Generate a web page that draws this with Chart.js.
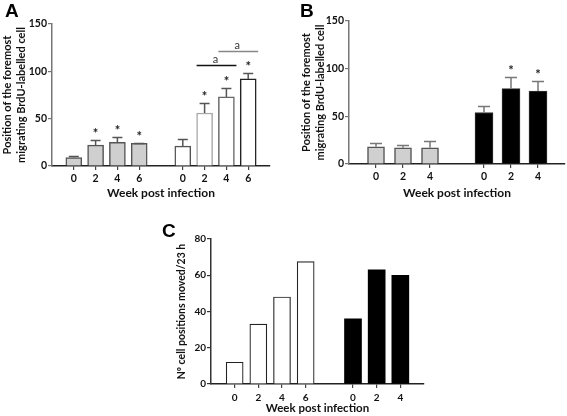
<!DOCTYPE html>
<html><head><meta charset="utf-8">
<script src="https://cdn.jsdelivr.net/npm/chart.js@4.4.1/dist/chart.umd.min.js"></script>
<style>
body{margin:0;background:#fff;width:567px;height:416px;position:relative;overflow:hidden}
canvas{position:absolute}
.lt{position:absolute;font:bold 19px 'Liberation Sans',Arial,sans-serif;line-height:1;color:#000}
</style></head><body>
<canvas id="cA" width="280" height="204" style="left:0;top:0"></canvas>
<canvas id="cB" width="277" height="204" style="left:290px;top:0"></canvas>
<canvas id="cC" width="300" height="206" style="left:140px;top:210px"></canvas>
<div class="lt" style="left:5px;top:1px">A</div>
<div class="lt" style="left:300px;top:1px">B</div>
<div class="lt" style="left:162px;top:221px">C</div>
<script>
// ---------- data ----------
const weeksA = ['0', '2', '4', '6'];
const grayA = [9, 22, 25, 24];
const grayAErr = [1.2, 5.3, 5.3, 0.8];
const grayAStars = ['', '*', '*', '*'];
const whiteA = [21, 56, 73, 92];
const whiteAErr = [7, 10.5, 9, 6];
const whiteAStars = ['', '*', '*', '*'];
const sigFromA = [1, 2];
const sigToA = [2, 3];
const sigLevelA = [107, 121];
const sigTextA = ['a', 'a'];

const weeksB = ['0', '2', '4'];
const grayB = [18, 17, 17];
const grayBErr = [4, 3, 7];
const blackB = [54, 79, 76.5];
const blackBErr = [7, 12, 11];
const blackBStars = ['', '*', '*'];

const weeksC = ['0', '2', '4', '6'];
const whiteC = [12, 33, 48, 67.5];
const weeksC2 = ['0', '2', '4'];
const blackC = [36, 63, 60];

const xTitle = 'Week post infection';
const yTitleAB = ['Position of the foremost', 'migrating BrdU-labelled cell'];
const yTitleC = 'Nº cell positions moved/23 h';

// ---------- helpers ----------
const FONT = 'Lato';
const nul = n => Array(n).fill(null);

const annot = {
  id: 'annot',
  afterDatasetsDraw(chart, args, o) {
    const ctx = chart.ctx, ys = chart.scales.y;
    ctx.save();
    chart.data.datasets.forEach((ds, di) => {
      const meta = chart.getDatasetMeta(di);
      meta.data.forEach((el, i) => {
        const v = ds.data[i];
        if (v == null) return;
        let top = el.y;
        if (ds.err && ds.err[i] != null) {
          const ey = Math.round(ys.getPixelForValue(v + ds.err[i])) + 0.5;
          ctx.strokeStyle = ds.errColor || '#555';
          ctx.lineWidth = 1.5;
          ctx.beginPath();
          ctx.moveTo(el.x, el.y); ctx.lineTo(el.x, ey);
          ctx.moveTo(el.x - o.cap, ey); ctx.lineTo(el.x + o.cap, ey);
          ctx.stroke();
          top = ey;
        }
        if (ds.stars && ds.stars[i]) {
          ctx.fillStyle = '#222';
          ctx.font = 'bold 13px ' + FONT;
          ctx.textAlign = 'center';
          ctx.textBaseline = 'alphabetic';
          ctx.fillText(ds.stars[i], el.x, top - 3);
        }
      });
    });
    if (o.sig) {
      const meta = chart.getDatasetMeta(o.sig.ds);
      o.sig.from.forEach((f, k) => {
        const a = meta.data[o.sig.offset + f], b = meta.data[o.sig.offset + o.sig.to[k]];
        const y = Math.round(ys.getPixelForValue(o.sig.level[k])) + 0.5;
        ctx.strokeStyle = o.sig.colors[k];
        ctx.lineWidth = 1.5;
        ctx.beginPath();
        ctx.moveTo(a.x - a.width / 2, y); ctx.lineTo(b.x + b.width / 2 + 2, y);
        ctx.stroke();
        ctx.fillStyle = '#333';
        ctx.font = '11px ' + FONT;
        ctx.textAlign = 'center';
        ctx.textBaseline = 'alphabetic';
        ctx.fillText(o.sig.text[k], (a.x + b.x) / 2, y - 3);
      });
    }
    ctx.restore();
  }
};

function makeScales(labels, ymax, ystep, xH, yW, tickSize, titleSize, ytitle, ytitleSize, axisColor, xtPad, xTitlePadB) {
  return {
    x: {
      type: 'category', offset: false,
      grid: { offset: false, drawOnChartArea: false, tickLength: 4, lineWidth: 1.2,
              tickColor: c => (labels[c.index] ? '#444' : 'rgba(0,0,0,0)') },
      border: { color: '#222', width: 1.5 },
      ticks: { color: '#111', font: { family: FONT, size: tickSize, weight: 'bold' }, padding: xtPad,
               autoSkip: false, maxRotation: 0 },
      title: { display: true, text: xTitle, color: '#111',
               font: { family: FONT, size: titleSize, weight: 'bold', lineHeight: 1.2 },
               padding: { top: 0, bottom: xTitlePadB } },
      afterFit: s => { s.height = xH; }
    },
    y: {
      min: 0, max: ymax,
      grid: { drawOnChartArea: false, tickLength: 4, color: axisColor, lineWidth: 1.2 },
      border: { color: axisColor, width: 1.5 },
      ticks: { stepSize: ystep, color: '#111', font: { family: FONT, size: tickSize, weight: 'bold' }, padding: 1 },
      title: { display: true, text: ytitle, color: '#111',
               font: { family: FONT, size: ytitleSize, weight: 'bold', lineHeight: 1.3 },
               padding: { top: 0, bottom: 0 } },
      afterFit: s => { s.width = yW; }
    }
  };
}

Chart.register(annot);
const common = { responsive: false, animation: false, devicePixelRatio: 1,
  plugins: { legend: { display: false }, tooltip: { enabled: false } } };

// ---------- A ----------
const labelsA = ['', ...weeksA, '', ...weeksA, ''];
new Chart(document.getElementById('cA'), {
  type: 'bar',
  data: { labels: labelsA, datasets: [
    { data: [null, ...grayA, ...nul(6)], err: [null, ...grayAErr, ...nul(6)], stars: [null, ...grayAStars, ...nul(6)],
      backgroundColor: '#cfcfcf', borderColor: '#555', borderWidth: 1.5, barThickness: 16, grouped: false, errColor: '#555' },
    { data: [...nul(6), ...whiteA, null], err: [...nul(6), ...whiteAErr, null], stars: [...nul(6), ...whiteAStars, null],
      backgroundColor: '#fff', borderColor: ['#555', '#555', '#555', '#555', '#555', '#555', '#555', '#aaa', '#666', '#222', '#222'],
      borderWidth: 1.5, barThickness: 16, grouped: false, errColor: '#555' }
  ]},
  options: { ...common,
    layout: { padding: { top: 24, right: 10, left: 0, bottom: 0 } },
    scales: makeScales(labelsA, 150, 50, 38, 52, 10.5, 12, yTitleAB, 11, '#777', 2, 4),
    plugins: { ...common.plugins,
      annot: { cap: 5, sig: { ds: 1, offset: 6, from: sigFromA, to: sigToA, level: sigLevelA, text: sigTextA, colors: ['#111', '#888'] } } }
  }
});

// ---------- B ----------
const labelsB = ['', ...weeksB, '', ...weeksB, ''];
new Chart(document.getElementById('cB'), {
  type: 'bar',
  data: { labels: labelsB, datasets: [
    { data: [null, ...grayB, ...nul(5)], err: [null, ...grayBErr, ...nul(5)],
      backgroundColor: '#d0d0d0', borderColor: '#555', borderWidth: 1.5, barThickness: 17, grouped: false, errColor: '#777' },
    { data: [...nul(5), ...blackB, null], err: [...nul(5), ...blackBErr, null], stars: [...nul(5), ...blackBStars, null],
      backgroundColor: '#000', borderColor: '#333', borderWidth: 1, barThickness: 18, grouped: false, errColor: '#777' }
  ]},
  options: { ...common,
    layout: { padding: { top: 21, right: 1, left: 9, bottom: 0 } },
    scales: makeScales(labelsB, 150, 50, 40, 50, 10.5, 12, yTitleAB, 11, '#777', 2, 4),
    plugins: { ...common.plugins, annot: { cap: 6 } }
  }
});

// ---------- C ----------
const labelsC = ['', ...weeksC, '', ...weeksC2, ''];
new Chart(document.getElementById('cC'), {
  type: 'bar',
  data: { labels: labelsC, datasets: [
    { data: [null, ...whiteC, ...nul(5)],
      backgroundColor: '#fff', borderColor: '#222', borderWidth: 1.2, barThickness: 17, grouped: false },
    { data: [...nul(6), ...blackC, null],
      backgroundColor: '#000', borderColor: '#000', borderWidth: 0, barThickness: 17, grouped: false }
  ]},
  options: { ...common,
    layout: { padding: { top: 29, right: 16, left: 35, bottom: 0 } },
    scales: makeScales(labelsC, 80, 20, 32, 36, 10, 11.5, yTitleC, 10.5, '#333', 4, 1),
    plugins: { ...common.plugins, annot: { cap: 5 } }
  }
});
</script>
</body></html>
